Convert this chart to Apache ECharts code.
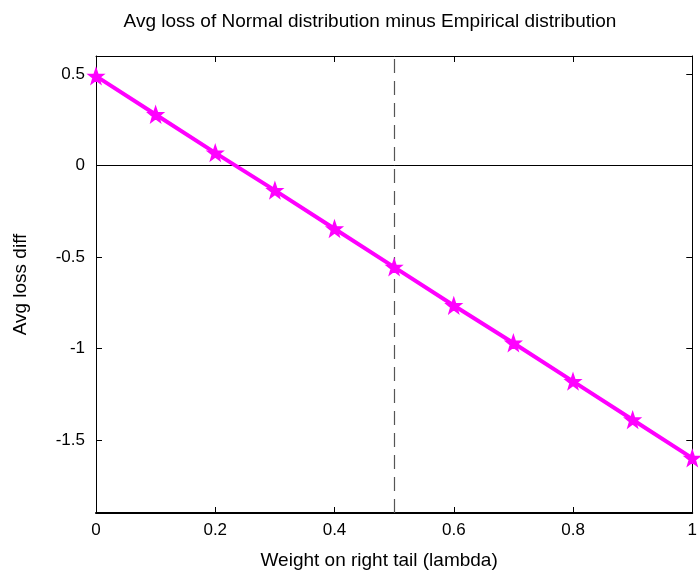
<!DOCTYPE html>
<html>
<head>
<meta charset="utf-8">
<script src="https://cdn.jsdelivr.net/npm/echarts@6/dist/echarts.min.js"></script>
<style>
html, body { margin: 0; padding: 0; background: #fff; }
#grafico { width: 700px; height: 575px; }
</style>
</head>
<body>
<div id="grafico"></div>
<script>
// data
const lambdas = [0, 0.1, 0.2, 0.3, 0.4, 0.5, 0.6, 0.7, 0.8, 0.9, 1.0]
const lossDiff = [0.49, 0.28, 0.07, -0.135, -0.345, -0.555, -0.765, -0.97, -1.18, -1.39, -1.6]
const yTicks = [-1.5, -1, -0.5, 0, 0.5]
const xTicks = [0, 0.2, 0.4, 0.6, 0.8, 1]

const star = 'path://M0,-10L2.35,-3.24L9.51,-3.09L3.8,1.24L5.88,8.09L0,4L-5.88,8.09L-3.8,1.24L-9.51,-3.09L-2.35,-3.24Z'
const font = 'Liberation Sans'

let myChart = echarts.init(document.getElementById('grafico'))

let ejeY = (pos, labels) => ({
  type: 'value',
  position: pos,
  min: -1.9,
  max: 0.6,
  axisLine: { show: true, onZero: false, lineStyle: { color: '#000', width: 1 } },
  axisTick: { show: true, inside: true, length: 6, customValues: yTicks, lineStyle: { color: '#000' } },
  axisLabel: {
    show: labels,
    customValues: yTicks,
    formatter: v => String(v),
    color: '#000',
    fontFamily: font,
    fontSize: 17,
    margin: 11
  },
  splitLine: { show: false }
})

let ejeX = (pos, labels) => ({
  type: 'value',
  position: pos,
  min: 0,
  max: 1,
  interval: 0.2,
  axisLine: { show: true, onZero: false, lineStyle: { color: '#000', width: pos === 'bottom' ? 2 : 1 } },
  axisTick: { show: true, inside: true, length: 6, lineStyle: { color: '#000' } },
  axisLabel: {
    show: labels,
    formatter: v => String(Math.round(v * 10) / 10),
    color: '#000',
    fontFamily: font,
    fontSize: 17,
    margin: 9
  },
  splitLine: { show: false }
})

let option = {
  animation: false,
  backgroundColor: '#fff',
  title: {
    text: 'Avg loss of Normal distribution minus Empirical distribution',
    left: 365,
    top: 7,
    textAlign: 'center',
    textStyle: { fontFamily: font, fontSize: 19, fontWeight: 'normal', color: '#000' }
  },
  grid: { left: 96, right: 3, top: 56, bottom: 59 },
  xAxis: [
    Object.assign(ejeX('bottom', true), {
      name: 'Weight on right tail (lambda)',
      nameLocation: 'middle',
      nameGap: 38,
      nameTextStyle: { fontFamily: font, fontSize: 19, color: '#000', padding: [0, 30, 0, 0] }
    }),
    ejeX('top', false)
  ],
  yAxis: [
    Object.assign(ejeY('left', true), {
      name: 'Avg loss diff',
      nameLocation: 'middle',
      nameGap: 66,
      nameTextStyle: { fontFamily: font, fontSize: 19, color: '#000' }
    }),
    ejeY('right', false)
  ],
  series: [
    {
      type: 'line',
      data: lambdas.map((x, i) => [x, lossDiff[i]]),
      symbol: star,
      symbolSize: 15,
      lineStyle: { color: '#ff00ff', width: 4 },
      itemStyle: { color: '#ff00ff', borderColor: '#ff00ff', borderWidth: 1.5 },
      z: 3,
      markLine: {
        silent: true,
        symbol: 'none',
        label: { show: false },
        z: 1,
        data: [
          { xAxis: 0.5, lineStyle: { color: '#555', type: [14, 8], width: 1.2 } },
          { yAxis: 0, lineStyle: { color: '#000', type: 'solid', width: 1 } }
        ]
      }
    }
  ]
}

myChart.setOption(option)
</script>
</body>
</html>
